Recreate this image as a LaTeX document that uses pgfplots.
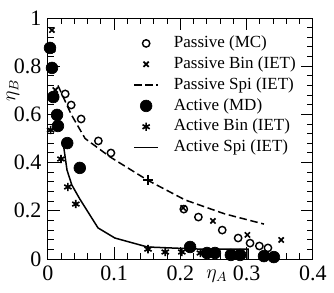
\documentclass[border=0pt]{standalone}
\usepackage{fontspec}
\setmainfont{Liberation Serif}
\usepackage{pgfplots}
\pgfplotsset{compat=1.18}
\begin{document}
\begin{tikzpicture}
\begin{axis}[
  scale only axis, width=159pt, height=144.6pt,
  xmin=0, xmax=0.4, ymin=0, ymax=1,
  xtick={0,0.1,0.2,0.3,0.4}, xticklabels={0,0.1,0.2,0.3,0.4},
  ytick={0,0.2,0.4,0.6,0.8,1}, yticklabels={0,0.2,0.4,0.6,0.8,1},
  minor x tick num=4, minor y tick num=4,
  major tick length=7pt, minor tick length=3.6pt,
  tick style={black, line width=0.6pt},
  axis line style={line width=0.6pt},
  ticklabel style={font=\fontsize{13.2}{14}\selectfont},
  /pgf/number format/assume math mode=true,
  xticklabel style={yshift=-0.5pt},
  yticklabel style={xshift=-0.5pt},
  xlabel={$\eta_A$},
  xlabel style={at={(rel axis cs:0.6375,0)}, anchor=north, yshift=-3pt, font=\fontsize{12}{14}\selectfont},
  ylabel={$\eta_B$},
  ylabel style={at={(rel axis cs:-0.132,0.70)}, anchor=center, font=\fontsize{12}{14}\selectfont},
  legend image code/.code={\draw[mark repeat=2,mark phase=2,#1] plot coordinates {(0pt,0pt)(7.2pt,0pt)(14.4pt,0pt)};},
  legend style={at={(0.321,0.934)}, anchor=north west, draw=none, fill=none, inner sep=0pt,
    column sep=9pt, row sep=1.5pt,
    nodes={inner sep=0pt, text height=8pt, text depth=3pt},
    font=\fontsize{10.2}{12}\selectfont},
  legend cell align=left,
]
\addplot[only marks, mark=o, mark size=2.2pt, line width=0.85pt] coordinates {
(0.026,0.685)(0.035,0.639)(0.050,0.581)(0.076,0.490)(0.095,0.440)(0.205,0.207)(0.227,0.174)(0.263,0.120)(0.287,0.087)(0.305,0.066)(0.319,0.054)(0.332,0.046)};
\addlegendentry{Passive (MC)}
\addplot[only marks, mark=x, mark size=2.2pt, line width=1pt] coordinates {
(0.006,0.95)(0.006,0.867)(0.006,0.784)(0.011,0.701)(0.204,0.212)(0.249,0.158)(0.301,0.100)(0.352,0.079)};
\addlegendentry{Passive Bin (IET)}
\addplot[no marks, line width=0.9pt, dash pattern=on 4.5pt off 2.2pt] coordinates {
(0.015,0.72)(0.035,0.60)(0.056,0.50)(0.094,0.423)(0.151,0.326)(0.207,0.245)(0.267,0.187)(0.326,0.145)};
\addlegendentry{Passive Spi (IET)}
\addplot[only marks, mark=*, mark size=3.5pt, fill=black] coordinates {
(0.003,0.876)(0.006,0.793)(0.008,0.672)(0.0136,0.598)(0.015,0.552)(0.029,0.481)(0.048,0.378)(0.2145,0.050)(0.240,0.025)(0.252,0.025)(0.276,0.017)(0.290,0.017)(0.326,0.012)(0.341,0.008)};
\addlegendentry{Active (MD)}
\addplot[only marks, mark=asterisk, mark size=2.5pt, line width=1pt] coordinates {
(0.006,0.87)(0.006,0.79)(0.008,0.67)(0.004,0.535)(0.0196,0.415)(0.030,0.299)(0.042,0.228)(0.151,0.041)(0.177,0.029)(0.202,0.029)(0.230,0.025)(0.252,0.021)};
\addlegendentry{Active Bin (IET)}
\addplot[no marks, line width=0.9pt] coordinates {
(0.0227,0.485)(0.0287,0.369)(0.036,0.307)(0.048,0.249)(0.0755,0.129)(0.101,0.087)(0.150,0.050)(0.184,0.046)(0.230,0.041)(0.302,0.041)(0.302,0.0)};
\addlegendentry{Active Spi (IET)}
\addplot[only marks, mark=+, mark size=3pt, line width=0.9pt, forget plot] coordinates {(0.151,0.328)};
\coordinate (bl) at (rel axis cs:0,0);
\coordinate (tr) at (rel axis cs:1,1);
\end{axis}
\pgfresetboundingbox
\path ([shift={(-28.8pt,-19.8pt)}]bl) rectangle ([shift={(12.6pt,10.8pt)}]tr);
\end{tikzpicture}
\end{document}
